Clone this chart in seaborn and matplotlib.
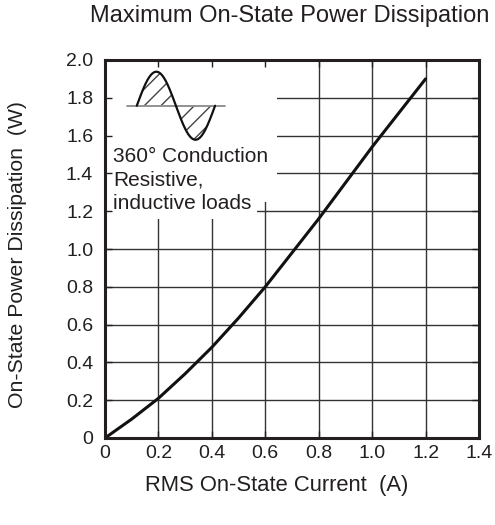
import numpy as np
import pandas as pd
import matplotlib
matplotlib.use("Agg")
import matplotlib.pyplot as plt
import matplotlib.patches as mpatches
import seaborn as sns

# ---- data ----
rms_current = [0.0, 0.1, 0.2, 0.3, 0.4, 0.5, 0.6, 0.7, 0.8, 0.9, 1.0, 1.1, 1.2]
power_diss = [0.0, 0.10, 0.21, 0.34, 0.48, 0.635, 0.80, 0.98, 1.16, 1.35, 1.54, 1.72, 1.90]
x_ticks = [0.0, 0.2, 0.4, 0.6, 0.8, 1.0, 1.2, 1.4]
x_tick_labels = ["0", "0.2", "0.4", "0.6", "0.8", "1.0", "1.2", "1.4"]
y_ticks = [0.0, 0.2, 0.4, 0.6, 0.8, 1.0, 1.2, 1.4, 1.6, 1.8, 2.0]
y_tick_labels = ["0", "0.2", "0.4", "0.6", "0.8", "1.0", "1.2", "1.4", "1.6", "1.8", "2.0"]
title = "Maximum On-State Power Dissipation"
x_label = "RMS On-State Current  (A)"
y_label = "On-State Power Dissipation  (W)"
inset_text = "360\u00b0 Conduction\nResistive,\ninductive loads"

df = pd.DataFrame({"current": rms_current, "power": power_diss})

sns.set_theme(style="white")
plt.rcParams["font.family"] = ["Liberation Sans", "DejaVu Sans"]
TXT = "#231f20"

fig = plt.figure(figsize=(4.95, 5.25), dpi=100)
pos = [105 / 495, 1 - 438 / 525, (479 - 105) / 495, (438 - 60) / 525]
ax = fig.add_axes(pos)
ax.set_xlim(0, 1.4)
ax.set_ylim(0, 2.0)
ax.set_xticks(x_ticks)
ax.set_yticks(y_ticks)
ax.set_axisbelow(True)
ax.grid(True, color="#333333", linewidth=1.0)
ax.tick_params(left=False, bottom=False, labelleft=False, labelbottom=False)
for s in ax.spines.values():
    s.set_visible(False)

# white box behind the inset
ax.add_patch(mpatches.Rectangle((0, 1.25), 0.645, 0.75, facecolor="white",
                                edgecolor="none", zorder=1))
ax.add_patch(mpatches.Rectangle((0, 1.16), 0.57, 0.10, facecolor="white",
                                edgecolor="none", zorder=1))

# main curve
sns.lineplot(data=df, x="current", y="power", ax=ax, color="#111111",
             linewidth=2.2, zorder=3)

# sine icon
base_y, amp = 1.758, 0.18
x0, x1 = 0.119, 0.412
xs = np.linspace(x0, x1, 200)
ys = base_y + amp * np.sin(2 * np.pi * (xs - x0) / (x1 - x0))
ax.plot([0.0835, 0.449], [base_y, base_y], color="#8a8a8a", linewidth=1.3, zorder=3)
ax.fill_between(xs, base_y, ys, facecolor="none", edgecolor="#444444",
                hatch="//", linewidth=0, zorder=2)
ax.plot(xs, ys, color="#111111", linewidth=1.6, zorder=4)
ax.text(0.03, 1.365, inset_text, ha="left", va="center", fontsize=15,
        color=TXT, linespacing=1.32, zorder=4)

ax.set_xlabel("")
ax.set_ylabel("")

# overlay axes for ticks, spines and labels
ax2 = fig.add_axes(pos, sharex=ax, sharey=ax, facecolor="none")
ax2.grid(False)
ax2.set_xticks(x_ticks)
ax2.set_xticklabels(x_tick_labels)
ax2.set_yticks(y_ticks)
ax2.set_yticklabels(y_tick_labels)
ax2.tick_params(direction="in", length=5, width=1.0, colors=TXT,
                labelsize=14, top=True, right=True, left=True, bottom=True)
ax2.tick_params(axis="y", pad=8.5)
ax2.tick_params(axis="x", pad=5)
for s in ax2.spines.values():
    s.set_visible(True)
    s.set_linewidth(2.2)
    s.set_color(TXT)
ax2.set_xlabel(x_label, fontsize=15.8, color=TXT)
ax2.xaxis.label.set_va("center")
ax2.xaxis.set_label_coords((277 - 105) / 374, (438 - 485) / 378)
ax2.set_ylabel(y_label, fontsize=15.3, color=TXT)
ax2.yaxis.label.set_va("center")
ax2.yaxis.set_label_coords((18 - 105) / 374, (438 - 254) / 378)

fig.text(290 / 495, 1 - 16 / 525, title, ha="center", va="center",
         fontsize=17, color=TXT)

fig.savefig("out.png", dpi=100)
